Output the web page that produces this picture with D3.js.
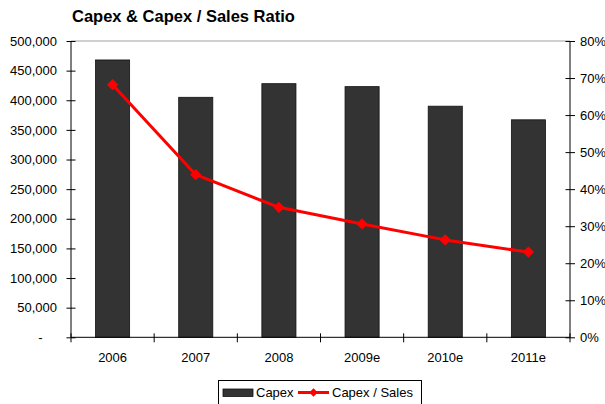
<!DOCTYPE html>
<html>
<head>
<meta charset="utf-8">
<script src="https://cdn.jsdelivr.net/npm/d3@7"></script>
<style>
  html, body { margin: 0; padding: 0; background: #fff; }
  svg { display: block; font-family: "Liberation Sans", Arial, sans-serif; }
</style>
</head>
<body>
<svg id="chart" width="605" height="404"></svg>
<script>
// Yearly capital expenditure and its ratio to sales
const categories = ["2006", "2007", "2008", "2009e", "2010e", "2011e"];
const capex = [468000, 405000, 428000, 423000, 390000, 367000];
const capexToSales = [0.682, 0.439, 0.351, 0.306, 0.263, 0.230];
const capexTicks = [0, 50000, 100000, 150000, 200000, 250000, 300000, 350000, 400000, 450000, 500000];
const ratioTicks = [0, 0.1, 0.2, 0.3, 0.4, 0.5, 0.6, 0.7, 0.8];

const W = 605, H = 404;
const margin = { top: 41, right: 35, bottom: 67, left: 71 };
const iw = W - margin.left - margin.right;
const ih = 337.3 - margin.top;

const svg = d3.select("#chart");

svg.append("text")
  .attr("x", 72).attr("y", 21.5)
  .attr("font-size", 16.5).attr("font-weight", "bold")
  .attr("fill", "#000")
  .text("Capex & Capex / Sales Ratio");

const g = svg.append("g").attr("transform", `translate(${margin.left},${margin.top})`);

const x = d3.scaleBand().domain(categories).range([0, iw])
  .paddingInner(0.59).paddingOuter(0.295);
const y = d3.scaleLinear().domain([0, 500000]).range([ih, 0]);
const y2 = d3.scaleLinear().domain([0, 0.8]).range([ih, 0]);

// top border of the plot area
g.append("line")
  .attr("x1", 0).attr("x2", iw).attr("y1", y(500000)).attr("y2", y(500000))
  .attr("stroke", "#a0a0a0").attr("stroke-width", 1);

// bars
g.selectAll("rect.bar").data(categories).join("rect")
  .attr("class", "bar")
  .attr("x", d => x(d))
  .attr("width", x.bandwidth())
  .attr("y", (d, i) => y(capex[i]))
  .attr("height", (d, i) => ih - y(capex[i]))
  .attr("fill", "#333333")
  .attr("stroke", "#111").attr("stroke-width", 0.8);

// left axis
const yAxis = g.append("g")
  .call(d3.axisLeft(y).tickValues(capexTicks).tickSize(4.5).tickPadding(9.5)
    .tickFormat(d => d === 0 ? "-" : d3.format(",")(d)));
yAxis.selectAll(".tick line").attr("x1", 4.5);
yAxis.select(".domain").attr("d", `M0,0V${ih}`);
yAxis.selectAll("text").attr("font-size", 13).attr("font-family", "Liberation Sans, Arial, sans-serif").attr("fill", "#000");
yAxis.selectAll(".tick").filter(d => d === 0).select("text").attr("dx", -14.5);

// right axis
const y2Axis = g.append("g").attr("transform", `translate(${iw},0)`)
  .call(d3.axisRight(y2).tickValues(ratioTicks).tickSize(5).tickPadding(5)
    .tickFormat(d3.format(".0%")));
y2Axis.selectAll(".tick line").attr("x1", -4.5);
y2Axis.select(".domain").attr("d", `M0,0V${ih}`);
y2Axis.selectAll("text").attr("font-size", 13).attr("font-family", "Liberation Sans, Arial, sans-serif").attr("fill", "#000");

// category axis: labels centered on bands, ticks on band boundaries
const xAxis = g.append("g").attr("transform", `translate(0,${ih})`)
  .call(d3.axisBottom(x).tickSize(0).tickPadding(15.8));
xAxis.select(".domain").attr("d", `M0,0H${iw}`);
xAxis.selectAll("text").attr("font-size", 13).attr("font-family", "Liberation Sans, Arial, sans-serif").attr("fill", "#000");
const bounds = [0].concat(categories.map(d => x(d) + x.bandwidth() / 2 + x.step() / 2));
xAxis.selectAll("line.bound").data(bounds).join("line")
  .attr("class", "bound")
  .attr("x1", d => d).attr("x2", d => d)
  .attr("y1", -4).attr("y2", 5)
  .attr("stroke", "#000");

// ratio line
const cx = d => x(d) + x.bandwidth() / 2;
const line = d3.line().x((d, i) => cx(categories[i])).y(d => y2(d));
g.append("path").datum(capexToSales)
  .attr("d", line)
  .attr("fill", "none").attr("stroke", "#ff0000").attr("stroke-width", 3)
  .attr("stroke-linejoin", "round");

const diamond = d3.symbol().type(d3.symbolSquare).size(64);
g.selectAll("path.marker").data(capexToSales).join("path")
  .attr("class", "marker")
  .attr("d", diamond)
  .attr("transform", (d, i) => `translate(${cx(categories[i])},${y2(d)}) rotate(45)`)
  .attr("fill", "#ff0000");

// legend
const lg = svg.append("g");
lg.append("rect").attr("x", 218.5).attr("y", 380.5).attr("width", 203).attr("height", 30)
  .attr("fill", "#fff").attr("stroke", "#000").attr("stroke-width", 1);
lg.append("rect").attr("x", 223).attr("y", 389).attr("width", 30).attr("height", 7.5)
  .attr("fill", "#333333").attr("stroke", "#111").attr("stroke-width", 0.8);
lg.append("text").attr("x", 256).attr("y", 397).attr("font-size", 13).text("Capex");
lg.append("line").attr("x1", 298).attr("x2", 329).attr("y1", 392.5).attr("y2", 392.5)
  .attr("stroke", "#ff0000").attr("stroke-width", 3);
lg.append("path").attr("d", d3.symbol().type(d3.symbolSquare).size(36))
  .attr("transform", "translate(313.5,392.5) rotate(45)").attr("fill", "#ff0000");
lg.append("text").attr("x", 332).attr("y", 397).attr("font-size", 13).text("Capex / Sales");
</script>
</body>
</html>
